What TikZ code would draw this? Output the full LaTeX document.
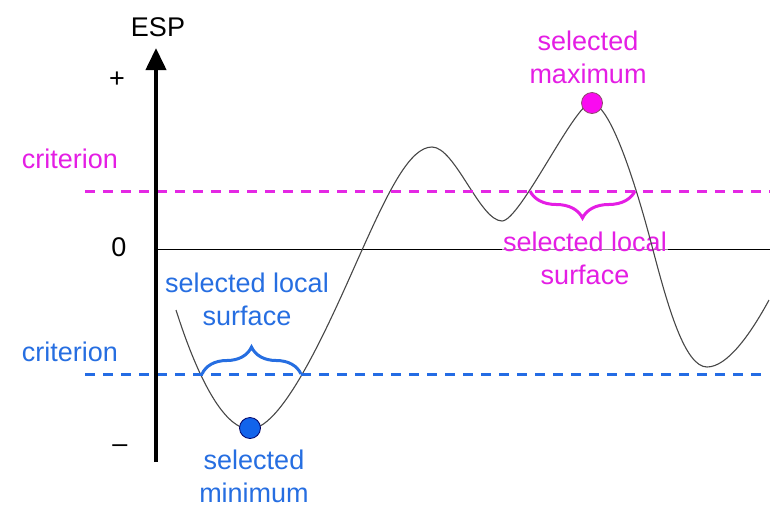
\documentclass[tikz,border=0pt]{standalone}
\usepackage{fontspec}
\setmainfont{Liberation Sans}
\usetikzlibrary{arrows.meta,decorations.pathreplacing}
\definecolor{magtext}{RGB}{228,30,228}
\definecolor{magline}{RGB}{228,40,228}
\definecolor{magdot}{RGB}{250,10,240}
\definecolor{bluetext}{RGB}{38,110,225}
\definecolor{blueline}{RGB}{36,108,228}
\definecolor{bluedot}{RGB}{18,100,235}
\tikzset{
  lbl/.style={font=\fontsize{27}{33}\selectfont, align=center, inner sep=1pt},
  critline/.style={line width=3pt, dash pattern=on 10pt off 8pt},
  brc/.style={line width=3pt, decorate, decoration={brace, amplitude=27pt}},
  dot/.style={circle, minimum size=21pt, inner sep=0pt, line width=0.8pt},
  curve/.style={draw=black!72, line width=1.1pt}
}
\begin{document}
\begin{tikzpicture}[x=1pt,y=-1pt]
\useasboundingbox (0,0) rectangle (783,515);
% coordinates
\coordinate (axb) at (156,462);
\coordinate (axt) at (156,48);
\coordinate (z0) at (156,249);
\coordinate (z1) at (770,249);
\coordinate (m0) at (85,191);
\coordinate (m1) at (770,191);
\coordinate (b0) at (85,374);
\coordinate (b1) at (768,374);
\coordinate (bbl) at (202,374);
\coordinate (bbr) at (301,374);
\coordinate (mbl) at (530,191);
\coordinate (mbr) at (635,191);
\coordinate (c0) at (176,310);
\coordinate (cmin) at (250,429);
\coordinate (cz1) at (362,250);
\coordinate (cp1) at (432,147);
\coordinate (cm2) at (502,221);
\coordinate (cmax) at (591,103);
\coordinate (cz2) at (653,250);
\coordinate (cm3) at (707,367);
\coordinate (cend) at (769,300);
% zero line
\draw[line width=1pt] (z0) -- (z1);
% labels on axis
\node[lbl] (esp) at (158,27) {ESP};
\node[lbl] (plus) at (117,80) {+};
\node[lbl] (zero) at (119,247) {0};
\node[lbl] (minus) at (120,449) {–};
% magenta label behind curve
\node[lbl, text=magtext, fill=white, fill opacity=0.55, text opacity=1] (msl) at (585,258) {selected local\\surface};
% curve
\draw[curve] (c0) .. controls (195,370) and (222,429) .. (cmin)
  .. controls (285,429) and (335,310) .. (cz1)
  .. controls (389,190) and (410,147) .. (cp1)
  .. controls (455,147) and (480,221) .. (cm2)
  .. controls (520,221) and (575,103) .. (cmax)
  .. controls (612,103) and (640,200) .. (cz2)
  .. controls (668,307) and (685,367) .. (cm3)
  .. controls (727,367) and (750,335) .. (cend);
% criterion lines
\draw[critline, magline] (m0) -- (m1);
\draw[critline, blueline] (b0) -- (b1);
% axis
\draw[line width=4pt, -{Triangle[width=20pt,length=22pt]}] (axb) -- (axt);
% braces
\draw[brc, bluetext] (bbl) -- (bbr);
\draw[brc, magtext] (mbr) -- (mbl);
% dots
\node[dot, fill=bluedot, draw=blue!40!black] (mindot) at (250,428) {};
\node[dot, fill=magdot, draw=magenta!50!black] (maxdot) at (592,103) {};
% labels
\node[lbl, text=magtext] (mcrit) at (70,159) {criterion};
\node[lbl, text=bluetext] (bcrit) at (70,352) {criterion};
\node[lbl, text=bluetext] (bsl) at (247,299) {selected local\\surface};
\node[lbl, text=bluetext] (bmin) at (254,476) {selected\\minimum};
\node[lbl, text=magtext] (mmax) at (588,57) {selected\\maximum};
\end{tikzpicture}
\end{document}
